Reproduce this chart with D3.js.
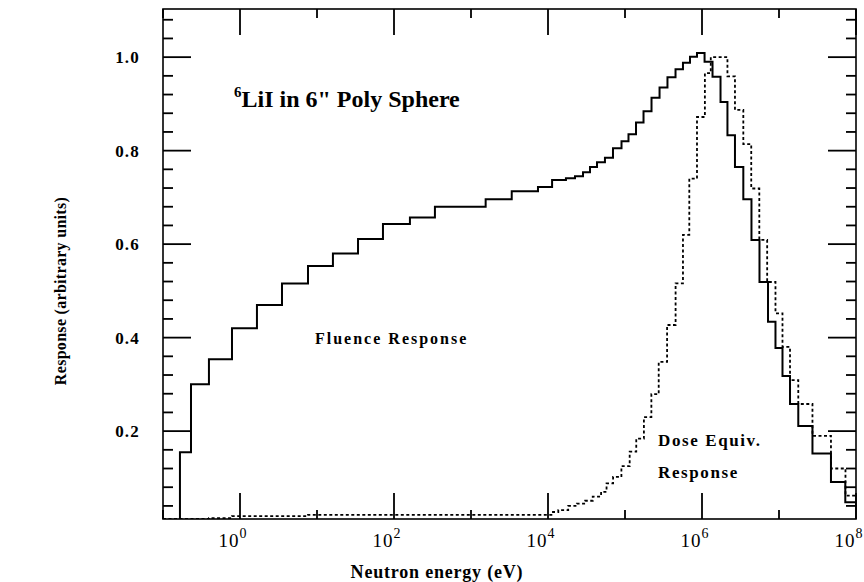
<!DOCTYPE html>
<html>
<head>
<meta charset="utf-8">
<title>6LiI in 6" Poly Sphere</title>
<style>
  body { margin: 0; background: white; }
  svg text { font-family: "Liberation Serif", "Times New Roman", serif; fill: black; }
</style>
</head>
<body>
<svg id="chart" width="864" height="582"></svg>

<script src="https://d3js.org/d3.v7.min.js"></script>
<script>
  // bin edges (eV) and response per bin
  const fluenceEdges = [0.1, 0.166, 0.231, 0.395, 0.787, 1.66, 3.51, 7.64, 16.1, 34.1, 71.9, 161, 340,
    1550, 3380, 7410, 11300, 17100, 22400, 28500, 35100, 43300, 54900, 69800, 90100,
    111000, 139000, 174000, 221000, 281000, 356000, 453000, 566000, 698000, 861000,
    1.08e6, 1.37e6, 1.74e6, 2.14e6, 2.68e6, 3.44e6, 4.39e6, 5.58e6, 7.2e6, 9.0e6,
    1.11e7, 1.39e7, 1.78e7, 2.72e7, 4.73e7, 7.26e7, 1e8]
  const fluenceValues = [0, 0.155, 0.30, 0.354, 0.42, 0.47, 0.516, 0.553, 0.58, 0.611, 0.643, 0.657,
    0.68, 0.696, 0.713, 0.722, 0.737, 0.741, 0.745, 0.754, 0.765, 0.775, 0.785, 0.805, 0.82,
    0.835, 0.86, 0.884, 0.913, 0.935, 0.957, 0.974, 0.988, 1.001, 1.009,
    0.99, 0.958, 0.904, 0.833, 0.765, 0.696, 0.609, 0.519, 0.434, 0.378,
    0.318, 0.258, 0.211, 0.152, 0.091, 0.048]

  const doseEdges = [0.1, 0.395, 0.787, 7.64, 11600, 13600, 18300, 23700, 30400, 38100, 48900,
    57600, 70000, 89800, 115000, 140000, 176000, 220000, 274000, 352000, 454000, 566000,
    684000, 861000, 1.09e6, 1.3e6, 2.14e6, 2.68e6, 3.44e6, 4.36e6, 5.55e6, 7.02e6, 9.0e6,
    1.11e7, 1.39e7, 1.78e7, 2.72e7, 4.73e7, 7.3e7, 1e8]
  const doseValues = [0.012, 0.014, 0.018, 0.021, 0.027, 0.031, 0.04, 0.045, 0.051, 0.06, 0.07,
    0.088, 0.102, 0.125, 0.156, 0.184, 0.23, 0.279, 0.348, 0.427, 0.516, 0.62,
    0.74, 0.872, 0.966, 1.0, 0.959, 0.887, 0.814, 0.719, 0.609, 0.519, 0.452,
    0.38, 0.309, 0.258, 0.19, 0.12, 0.062]

  const xMajor = [1, 1e2, 1e4, 1e6, 1e8]
  const xMinor = [1e-1, 10, 1e3, 1e5, 1e7]
  const yMajor = [0.2, 0.4, 0.6, 0.8, 1.0]
  const yMinor = [0.04, 0.08, 0.12, 0.16, 0.24, 0.28, 0.32, 0.36, 0.44, 0.48, 0.52, 0.56,
    0.64, 0.68, 0.72, 0.76, 0.84, 0.88, 0.92, 0.96, 1.04, 1.08]

  const svg = d3.select('#chart')
  const mLeft = 163, mRight = 856, mTop = 9, mBottom = 519

  const x = d3.scaleLog().domain([0.1, 1e8]).range([mLeft, mRight])
  const y = d3.scaleLinear().domain([0.012, 1.103]).range([mBottom, mTop])

  // turn edges + values into step points
  function steps(edges, values) {
    const pts = values.map((v, i) => [edges[i], v])
    pts.push([edges[edges.length - 1], values[values.length - 1]])
    return pts
  }

  const line = d3.line()
    .x(d => x(d[0]))
    .y(d => y(d[1]))
    .curve(d3.curveStepAfter)

  svg.append('clipPath').attr('id', 'plot-clip')
    .append('rect')
    .attr('x', mLeft).attr('y', mTop)
    .attr('width', mRight - mLeft).attr('height', mBottom - mTop)

  const plot = svg.append('g').attr('clip-path', 'url(#plot-clip)')

  plot.append('path')
    .attr('d', line(steps(doseEdges, doseValues)))
    .attr('fill', 'none')
    .attr('stroke', 'black')
    .attr('stroke-width', 1.8)
    .attr('stroke-dasharray', '3,2.5')

  plot.append('path')
    .attr('d', line(steps(fluenceEdges, fluenceValues)))
    .attr('fill', 'none')
    .attr('stroke', 'black')
    .attr('stroke-width', 2)

  // tick marks as small filled bars, inward on all four sides
  const xTicks = xMajor.map(v => ({ v, len: 26 })).concat(xMinor.map(v => ({ v, len: 9 })))
  const yTicks = yMajor.map(v => ({ v, len: 28 })).concat(yMinor.map(v => ({ v, len: 10 })))
  const tw = 1.8

  const marks = svg.append('g').attr('fill', 'black')
  marks.selectAll('.xb').data(xTicks).join('rect')
    .attr('x', d => x(d.v) - tw / 2).attr('y', d => mBottom - d.len)
    .attr('width', tw).attr('height', d => d.len)
  marks.selectAll('.xt').data(xTicks).join('rect')
    .attr('x', d => x(d.v) - tw / 2).attr('y', mTop)
    .attr('width', tw).attr('height', d => d.len)
  marks.selectAll('.yl').data(yTicks).join('rect')
    .attr('x', mLeft).attr('y', d => y(d.v) - tw / 2)
    .attr('width', d => d.len).attr('height', tw)
  marks.selectAll('.yr').data(yTicks).join('rect')
    .attr('x', d => mRight - d.len).attr('y', d => y(d.v) - tw / 2)
    .attr('width', d => d.len).attr('height', tw)

  // tick labels through d3 axes
  const gx = svg.append('g')
    .attr('transform', `translate(0,${mBottom})`)
    .call(d3.axisBottom(x).tickValues(xMajor).tickSize(0).tickPadding(0))
  gx.select('.domain').remove()
  gx.selectAll('.tick line').remove()

  const gy = svg.append('g')
    .attr('transform', `translate(${mLeft},0)`)
    .call(d3.axisLeft(y).tickValues(yMajor).tickSize(0).tickPadding(23).tickFormat(d3.format('.1f')))
  gy.select('.domain').remove()
  gy.selectAll('.tick line').remove()

  gy.selectAll('.tick text')
    .attr('font-family', '"Liberation Serif", serif')
    .attr('font-size', 17)
    .attr('font-weight', 'bold')
    .attr('letter-spacing', 1.2)

  gx.selectAll('.tick text').each(function(d) {
    const t = d3.select(this).text(null)
      .attr('font-family', '"Liberation Serif", serif')
      .attr('font-size', 19)
      .attr('text-anchor', 'end')
      .attr('x', 6).attr('y', 28).attr('dy', null)
    t.append('tspan').attr('letter-spacing', 1).text('10')
    t.append('tspan').attr('dy', -9).attr('font-size', 14).text(Math.round(Math.log10(d)))
  })

  // frame
  svg.append('rect')
    .attr('x', mLeft).attr('y', mTop)
    .attr('width', mRight - mLeft).attr('height', mBottom - mTop)
    .attr('fill', 'none')
    .attr('stroke', 'black')
    .attr('stroke-width', 1.6)

  // labels
  svg.append('text')
    .attr('x', 437).attr('y', 578)
    .attr('text-anchor', 'middle')
    .attr('font-size', 18).attr('font-weight', 'bold').attr('letter-spacing', 0.8)
    .text('Neutron energy (eV)')

  svg.append('text')
    .attr('transform', 'translate(66,291) rotate(-90)')
    .attr('text-anchor', 'middle')
    .attr('font-size', 16).attr('font-weight', 'bold').attr('letter-spacing', 0.3)
    .text('Response (arbitrary units)')

  const title = svg.append('text')
    .attr('x', 234).attr('y', 107)
    .attr('font-size', 24).attr('font-weight', 'bold')
  title.append('tspan').attr('font-size', 15).attr('dy', -10).text('6')
  title.append('tspan').attr('dy', 10).text('LiI in 6" Poly Sphere')

  svg.append('text')
    .attr('x', 315).attr('y', 344)
    .attr('font-size', 16).attr('font-weight', 'bold').attr('letter-spacing', 2)
    .text('Fluence Response')

  svg.append('text')
    .attr('x', 658).attr('y', 446)
    .attr('font-size', 17).attr('font-weight', 'bold').attr('letter-spacing', 1.6)
    .text('Dose Equiv.')

  svg.append('text')
    .attr('x', 658).attr('y', 478)
    .attr('font-size', 17).attr('font-weight', 'bold').attr('letter-spacing', 1.6)
    .text('Response')
</script>
</body>
</html>
